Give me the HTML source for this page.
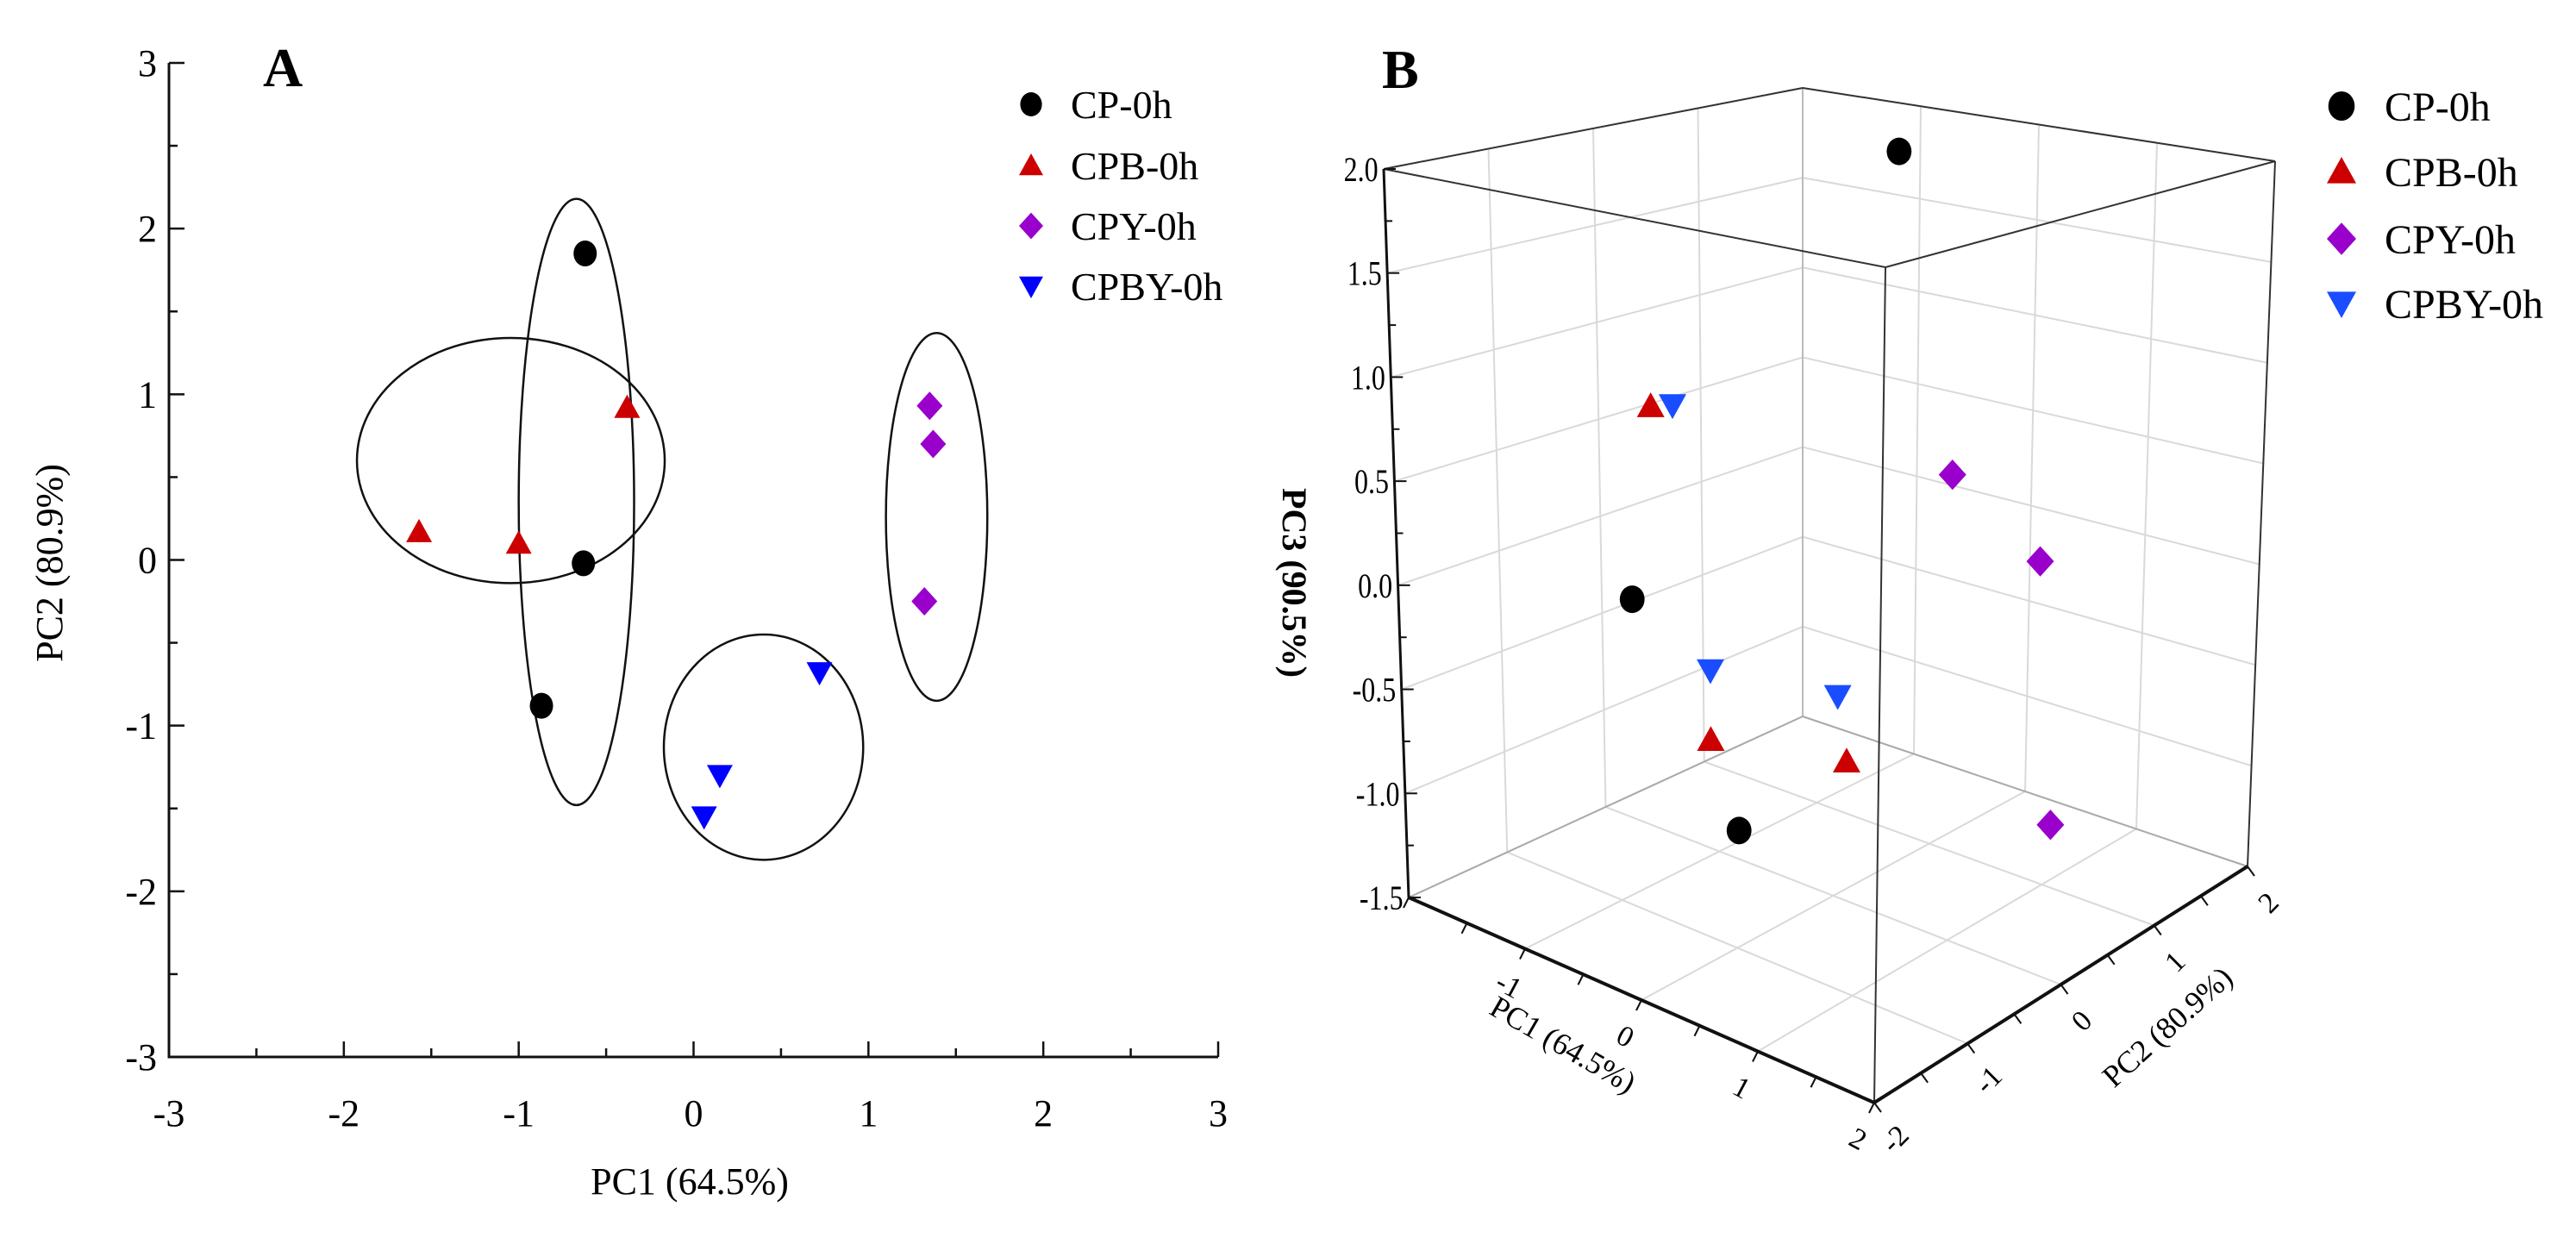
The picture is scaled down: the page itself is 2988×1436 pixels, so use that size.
<!DOCTYPE html>
<html><head><meta charset="utf-8">
<style>
html,body{margin:0;padding:0;background:#fff;}
svg{display:block;font-family:"Liberation Serif",serif;}
</style></head>
<body>
<svg id="fig" width="2988" height="1436" viewBox="0 0 2988 1436" xmlns="http://www.w3.org/2000/svg"></svg>
<script>
// ---------- Panel A data ----------
const seriesNames = ["CP-0h","CPB-0h","CPY-0h","CPBY-0h"];
const aTicks = [-3,-2,-1,0,1,2,3];
const aCP_pc1 = [-0.62,-0.63,-0.87];
const aCP_pc2 = [1.85,-0.02,-0.88];
const aCPB_pc1 = [-1.57,-1.0,-0.38];
const aCPB_pc2 = [0.17,0.1,0.92];
const aCPY_pc1 = [1.35,1.37,1.32];
const aCPY_pc2 = [0.93,0.7,-0.25];
const aCPBY_pc1 = [0.72,0.15,0.06];
const aCPBY_pc2 = [-0.68,-1.3,-1.55];
// confidence ellipses: center x, center y, radius x, radius y (data units)
const ellCx = [-0.67,-1.045,1.39,0.4];
const ellCy = [0.35,0.6,0.26,-1.13];
const ellRx = [0.33,0.88,0.29,0.57];
const ellRy = [1.83,0.74,1.11,0.68];
// ---------- Panel B data ----------
const bZTicks = ["2.0","1.5","1.0","0.5","0.0","-0.5","-1.0","-1.5"];
const bPC1Ticks = [-1,0,1,2];
const bPC2Ticks = [-2,-1,0,1,2];
const bCP_pc1 = [0.18,-1.05,-0.15];
const bCP_pc2 = [0.4,-0.8,-0.8];
const bCP_pc3 = [2.07,-0.10,-1.03];
const bCPB_pc1 = [-0.54,-0.39,0.11];
const bCPB_pc2 = [-1.2,-0.8,0.0];
const bCPB_pc3 = [0.97,-0.65,-0.83];
const bCPY_pc1 = [0.16,0.76,0.90];
const bCPY_pc2 = [1.0,1.2,1.2];
const bCPY_pc3 = [0.38,0.0,-1.28];
const bCPBY_pc1 = [-0.36,-0.39,0.03];
const bCPBY_pc2 = [-1.2,-0.8,0.0];
const bCPBY_pc3 = [1.0,-0.32,-0.53];

const NS="http://www.w3.org/2000/svg";
const svg=document.getElementById('fig');
function mk(tag,attrs,parent){const e=document.createElementNS(NS,tag);for(const k in attrs)e.setAttribute(k,attrs[k]);(parent||svg).appendChild(e);return e;}

function marker(kind,x,y,s,color,parent){
  let e;
  if(kind==="circle") e=mk('ellipse',{cx:x,cy:y,rx:s*0.9,ry:s,fill:color},parent);
  else if(kind==="up") e=mk('polygon',{points:`${x},${y-s} ${x+s},${y+s*0.8} ${x-s},${y+s*0.8}`,fill:color},parent);
  else if(kind==="down") e=mk('polygon',{points:`${x},${y+s} ${x+s},${y-s*0.8} ${x-s},${y-s*0.8}`,fill:color},parent);
  else e=mk('polygon',{points:`${x},${y-s*1.1} ${x+s},${y} ${x},${y+s*1.1} ${x-s},${y}`,fill:color},parent);
  return e;
}
const kinds=["circle","up","diamond","down"];
const colA=["#000000","#cc0000","#9900cc","#0000ff"];
const colB=["#000000","#cc0000","#9900cc","#1a4dff"];

// ================= PANEL A =================
const gA=mk('g',{});


const ax=v=>196+(v+3)*(1413-196)/6;
const ay=v=>1226-(v+3)*(1226-73)/6;
const axes=mk('path',{d:`M${ax(-3)},${ay(3)} L${ax(-3)},${ay(-3)} L${ax(3)},${ay(-3)}`,stroke:'#111',fill:'none','stroke-width':3},gA);


for(let i=-6;i<=6;i++){
  const v=i/2, len=(i%2===0)?18:10;
  const tx=mk('line',{x1:ax(v),x2:ax(v),y1:ay(-3),y2:ay(-3)-len,stroke:'#111','stroke-width':2.5},gA);
  
  
  const ty=mk('line',{x1:ax(-3),x2:ax(-3)+len,y1:ay(v),y2:ay(v),stroke:'#111','stroke-width':2.5},gA);
  
  
}
aTicks.forEach(t=>{
  const lx=mk('text',{x:ax(t),y:ay(-3)+80,'text-anchor':'middle','font-size':44},gA);
  lx.textContent=String(t);
  
  
  const ly=mk('text',{x:ax(-3)-14,y:ay(t)+15,'text-anchor':'end','font-size':44},gA);
  ly.textContent=String(t);
  
  
});
const xt=mk('text',{x:800,y:1385,'text-anchor':'middle','font-size':44},gA);
xt.textContent="PC1 (64.5%)";


const yt=mk('text',{x:0,y:0,'text-anchor':'middle','font-size':44,transform:'translate(72,653) rotate(-90)'},gA);
yt.textContent="PC2 (80.9%)";


const la=mk('text',{x:305,y:100,'font-size':64,'font-weight':'bold'},gA);
la.textContent="A";


const sx=(1413-196)/6, sy=(1226-73)/6;
for(let i=0;i<4;i++){
  const el=mk('ellipse',{cx:ax(ellCx[i]),cy:ay(ellCy[i]),rx:ellRx[i]*sx,ry:ellRy[i]*sy,fill:'none',stroke:'#111','stroke-width':2.5},gA);
  
  
}
const aX=[aCP_pc1,aCPB_pc1,aCPY_pc1,aCPBY_pc1], aY=[aCP_pc2,aCPB_pc2,aCPY_pc2,aCPBY_pc2];
for(let s=0;s<4;s++){
  for(let j=0;j<aX[s].length;j++){
    const m=marker(kinds[s],ax(aX[s][j]),ay(aY[s][j]),15,colA[s],gA);
    
    
  }
}
const legAy=[121,192,262,332];
for(let s=0;s<4;s++){
  const m=marker(kinds[s],1196,legAy[s],14,colA[s],gA);
  
  
  const t=mk('text',{x:1242,y:legAy[s]+16,'font-size':46},gA);
  t.textContent=seriesNames[s];
  
  
}

// ================= PANEL B =================
const gB=mk('g',{});


const C={ '000':[1634,1041],'100':[2174,1279],'110':[2607,1005],'010':[2091,831],
          '001':[1605,196],'101':[2187,310],'111':[2639,187],'011':[2091,102]};
function proj(p1,p2,p3){
  const u=(p1+2)/4, v=(p2+2)/4, w=(p3+1.5)/3.5;
  const r=[0,0];
  for(const k in C){
    const a=+k[0],b=+k[1],c=+k[2];
    const f=(a?u:1-u)*(b?v:1-v)*(c?w:1-w);
    r[0]+=f*C[k][0]; r[1]+=f*C[k][1];
  }
  return r;
}
function line3(a,b,stroke,wd,name){
  const p=proj(...a),q=proj(...b);
  const l=mk('line',{x1:p[0],y1:p[1],x2:q[0],y2:q[1],stroke:stroke,'stroke-width':wd},gB);
  
  
}
const grid='#d9d9d9';
const zVals=[-1.5,-1.0,-0.5,0,0.5,1.0,1.5,2.0];
zVals.forEach(z=>{ line3([-2,-2,z],[-2,2,z],grid,2,'grid-line-left-wall'); line3([-2,2,z],[2,2,z],grid,2,'grid-line-right-wall'); });
[-1,0,1].forEach(v=>{
  line3([-2,v,-1.5],[-2,v,2],grid,2,'grid-line-left-wall');
  line3([v,2,-1.5],[v,2,2],grid,2,'grid-line-right-wall');
  line3([v,-2,-1.5],[v,2,-1.5],grid,2,'grid-line-floor');
  line3([-2,v,-1.5],[2,v,-1.5],grid,2,'grid-line-floor');
});
line3([-2,2,-1.5],[-2,2,2],'#bbb',2,'back-edge');
line3([-2,-2,-1.5],[-2,2,-1.5],'#aaa',2,'back-edge');
line3([-2,2,-1.5],[2,2,-1.5],'#aaa',2,'back-edge');
line3([-2,-2,2],[2,-2,2],'#333',2,'box-edge');
line3([2,-2,2],[2,2,2],'#333',2,'box-edge');
line3([2,2,2],[-2,2,2],'#333',2,'box-edge');
line3([-2,2,2],[-2,-2,2],'#333',2,'box-edge');
line3([2,-2,-1.5],[2,-2,2],'#333',2,'box-edge');
line3([2,2,-1.5],[2,2,2],'#333',2,'box-edge');
line3([-2,-2,-1.5],[-2,-2,2],'#111',3,'z-axis-line');
line3([-2,-2,-1.5],[2,-2,-1.5],'#111',4,'pc1-axis-line');
line3([2,-2,-1.5],[2,2,-1.5],'#111',4,'pc2-axis-line');
for(let i=0;i<=14;i++){
  const z=-1.5+i*0.25; const p=proj(-2,-2,z);
  const tk=mk('line',{x1:p[0],y1:p[1],x2:p[0]+(i%2===0?14:8),y2:p[1],stroke:'#111','stroke-width':2},gB);
  
  
}
bZTicks.forEach(t=>{
  const p=proj(-2,-2,parseFloat(t));
  const lb=mk('text',{x:p[0]-8,y:p[1]+14,'text-anchor':'end','font-size':40,transform:`translate(${p[0]},0) scale(0.8,1) translate(${-p[0]},0)`},gB);
  lb.textContent=t;
  
  
});
for(let i=0;i<=8;i++){
  const v=-2+i*0.5;
  const p=proj(v,-2,-1.5);
  const tk=mk('line',{x1:p[0],y1:p[1],x2:p[0]-6,y2:p[1]+12,stroke:'#111','stroke-width':2},gB);
  
  
  const q=proj(2,v,-1.5);
  const tk2=mk('line',{x1:q[0],y1:q[1],x2:q[0]+8,y2:q[1]+11,stroke:'#111','stroke-width':2},gB);
  
  
}
bPC1Ticks.forEach(t=>{
  const p=proj(t,-2,-1.5);
  const lb=mk('text',{x:0,y:0,'text-anchor':'middle','font-size':34,transform:`translate(${p[0]-24},${p[1]+52}) rotate(28)`},gB);
  lb.textContent=String(t);
  
  
});
bPC2Ticks.forEach(t=>{
  const p=proj(2,t,-1.5);
  const lb=mk('text',{x:0,y:0,'text-anchor':'middle','font-size':34,transform:`translate(${p[0]+32},${p[1]+50}) rotate(-45)`},gB);
  lb.textContent=String(t);
  
  
});
const t1=mk('text',{x:0,y:0,'text-anchor':'middle','font-size':36,transform:'translate(1807,1222) rotate(30)'},gB);
t1.textContent="PC1 (64.5%)";


const t2=mk('text',{x:0,y:0,'text-anchor':'middle','font-size':36,transform:'translate(2522,1200) rotate(-42)'},gB);
t2.textContent="PC2 (80.9%)";


const t3=mk('text',{x:0,y:0,'text-anchor':'middle','font-size':40,'font-weight':'bold',transform:'translate(1488,676) rotate(90)'},gB);
t3.textContent="PC3 (90.5%)";


const lb2=mk('text',{x:1603,y:102,'font-size':64,'font-weight':'bold'},gB);
lb2.textContent="B";


const b1=[bCP_pc1,bCPB_pc1,bCPY_pc1,bCPBY_pc1], b2=[bCP_pc2,bCPB_pc2,bCPY_pc2,bCPBY_pc2], b3=[bCP_pc3,bCPB_pc3,bCPY_pc3,bCPBY_pc3];
for(let s=0;s<4;s++){
  for(let j=0;j<b1[s].length;j++){
    const p=proj(b1[s][j],b2[s][j],b3[s][j]);
    const m=marker(kinds[s],p[0],p[1],16,colB[s],gB);
    
    
  }
}
const legBy=[123,199,277,352];
for(let s=0;s<4;s++){
  const m=marker(kinds[s],2716,legBy[s],17,colB[s],gB);
  
  
  const t=mk('text',{x:2766,y:legBy[s]+17,'font-size':48},gB);
  t.textContent=seriesNames[s];
  
  
}
</script>
</body></html>
